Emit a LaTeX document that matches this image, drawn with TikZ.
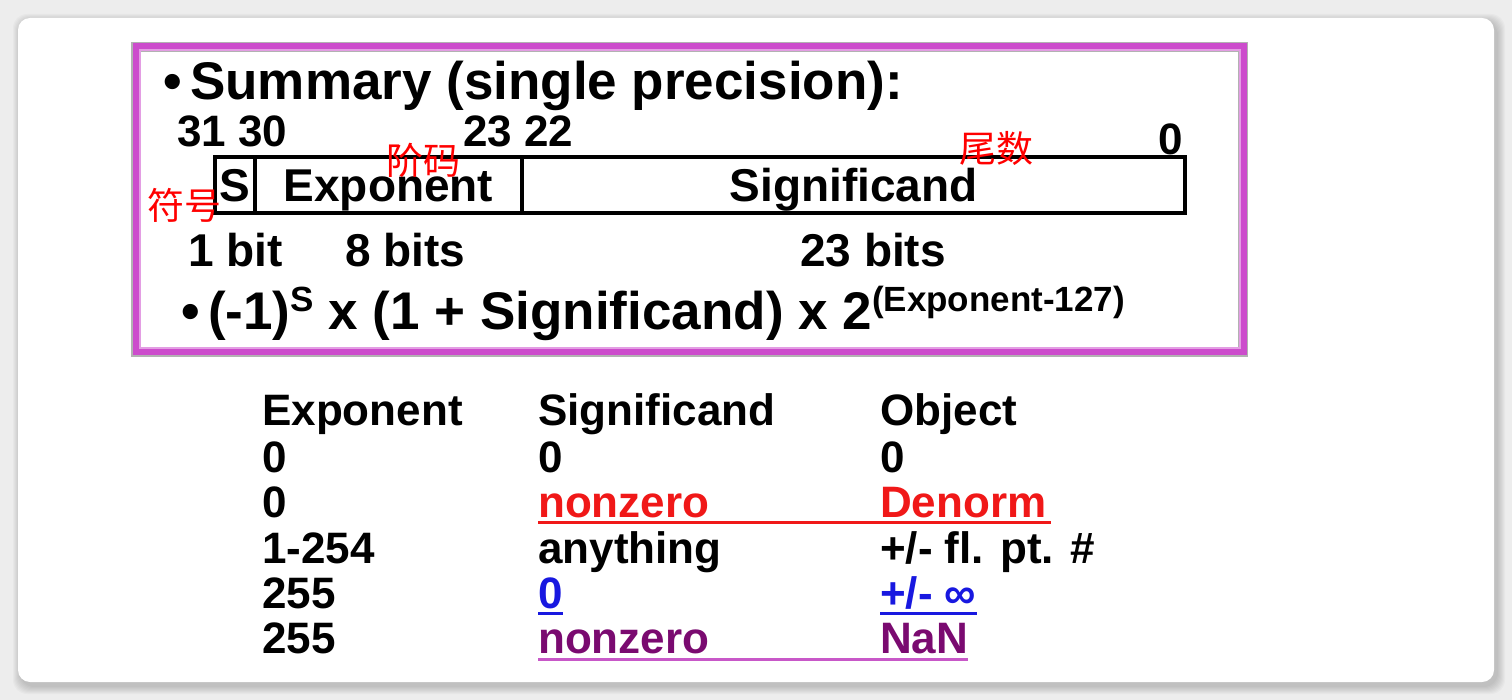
\documentclass[tikz,border=0pt]{standalone}
\usepackage{fontspec}
\setmainfont{Liberation Sans}
\newfontfamily\cjk{Noto Sans CJK SC}
\usetikzlibrary{calc}
\definecolor{frameM}{HTML}{CC4CCC}
\definecolor{denRed}{HTML}{F01818}
\definecolor{infBlue}{HTML}{1818E0}
\definecolor{nanPurp}{HTML}{7A0A70}
\definecolor{nanLine}{HTML}{C858C8}
\definecolor{bgGray}{HTML}{EDEDED}
\begin{document}
\begin{tikzpicture}[x=1pt,y=-1pt,
  txt/.style={inner sep=0pt, anchor=base west, font=\bfseries\fontsize{#1}{#1}\selectfont},
  txt/.default=44,
  field/.style={draw=black, line width=4pt, inner sep=0pt, minimum height=56pt,
    text height=33pt, text depth=0pt, font=\bfseries\fontsize{46}{46}\selectfont},
  cn/.style={inner sep=0pt, anchor=west, text=red, font=\cjk\fontsize{37}{37}\selectfont},
  uline/.style={line width=3pt}]
\useasboundingbox (0,0) rectangle (1512,700);
\fill[bgGray] (0,0) rectangle (1512,700);
% card shadow
\foreach \i in {1,...,8}{
  \fill[black, opacity=0.025, rounded corners=14pt] (18-\i+3,18-\i+4) rectangle (1494+\i+3,682+\i+4);
}
\fill[white, rounded corners=12pt] (18,18) rectangle (1494,682);
% magenta frame
\draw[gray!60, line width=10pt] (136,47) rectangle (1243,352);
\draw[frameM, line width=7pt] (136,47) rectangle (1243,352);
\draw[frameM!55, line width=2pt] (139.5,50.5) rectangle (1239.5,348.5);
% title
\node[txt=53] (b1) at (163,100) {•};
\node[txt=53] (title) at (190,100) {Summary (single precision):};
% bit indices
\node[txt=44] (i3130) at (177,147) {31 30};
\node[txt=44] (i2322) at (463,147) {23 22};
\node[txt=44] (i0) at (1158,155) {0};
% fields
\node[field, minimum width=40pt] (fS) at (235,185) {S};
\node[field, minimum width=267pt] (fE) at (388.5,185) {Exponent};
\node[field, minimum width=663pt] (fM) at (853.5,185) {Significand};
% chinese labels
\node[cn] (cnS) at (147,205) {符号};
\node[cn] (cnE) at (386,160) {阶码};
\node[cn] (cnM) at (959,148) {尾数};
% widths
\node[txt=46] (w1) at (188,267) {1 bit};
\node[txt=46] (w8) at (345,267) {8 bits};
\node[txt=46] (w23) at (800,267) {23 bits};
% formula
\node[txt=53] (b2) at (181,330) {•};
\node[txt=53] (formula) at (208,330) {(-1)\raisebox{18pt}{\fontsize{35}{35}\selectfont S} x (1 + Significand) x 2\raisebox{18pt}{\fontsize{35}{35}\selectfont (Exponent-127)}};
% table
\node[txt] (hE) at (262,425) {Exponent};
\node[txt] (hS) at (538,425) {Significand};
\node[txt] (hO) at (880,425) {Object};
\node[txt] (e1) at (262,472) {0};
\node[txt] (s1) at (538,472) {0};
\node[txt] (o1) at (880,472) {0};
\node[txt] (e2) at (262,517) {0};
\node[txt, text=denRed] (s2) at (538,517) {nonzero};
\node[txt, text=denRed] (o2) at (880,517) {Denorm};
\node[txt] (e3) at (262,563) {1-254};
\node[txt] (s3) at (538,563) {anything};
\node[txt] (o3) at (880,563) {+/- fl. pt. \#};
\node[txt] (e4) at (262,608) {255};
\node[txt, text=infBlue] (s4) at (538,608) {0};
\node[txt, text=infBlue] (o4) at (880,608) {+/- ∞};
\node[txt] (e5) at (262,653) {255};
\node[txt, text=nanPurp] (s5) at (538,653) {nonzero};
\node[txt, text=nanPurp] (o5) at (880,653) {NaN};
% underlines
\draw[uline, denRed] ($(s2.base west)+(0,5)$) -- ($(o2.base east)+(4,5)$);
\draw[uline, infBlue] ($(s4.base west)+(0,5)$) -- ($(s4.base east)+(0,5)$);
\draw[uline, infBlue] ($(o4.base west)+(0,5)$) -- ($(o4.base east)+(0,5)$);
\draw[uline, nanLine] ($(s5.base west)+(0,6)$) -- ($(o5.base east)+(0,6)$);
\end{tikzpicture}
\end{document}
